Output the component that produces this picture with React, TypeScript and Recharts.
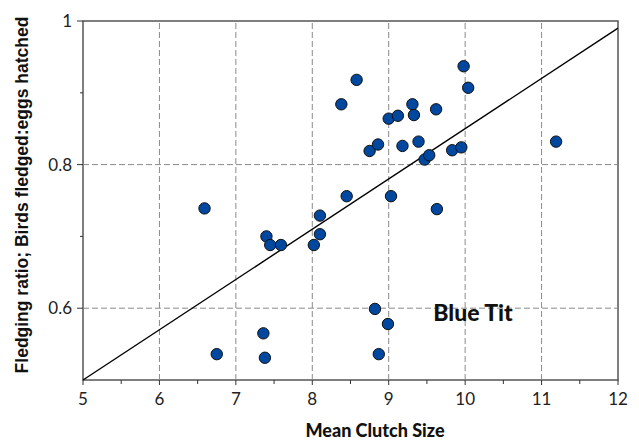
import {
  ReferenceArea,
  ReferenceLine,
  Scatter,
  ScatterChart,
  XAxis,
  YAxis,
} from "recharts"

// mean clutch size per site
const clutchSize = [
  6.59, 6.75, 7.36, 7.38, 7.4, 7.45, 7.59, 8.02, 8.1, 8.1, 8.45, 8.38, 8.58, 8.75, 8.82, 8.86, 8.87,
  8.99, 9.0, 9.03, 9.12, 9.18, 9.31, 9.33, 9.39, 9.47, 9.53, 9.62, 9.63, 9.83, 9.95, 9.98, 10.04, 11.19,
]

// fledging ratio (birds fledged : eggs hatched)
const fledgingRatio = [
  0.739, 0.536, 0.565, 0.531, 0.7, 0.688, 0.688, 0.688, 0.703, 0.729, 0.756, 0.884, 0.918, 0.819, 0.599,
  0.828, 0.536, 0.578, 0.864, 0.756, 0.868, 0.826, 0.884, 0.869, 0.832, 0.807, 0.813, 0.877, 0.738,
  0.82, 0.824, 0.937, 0.907, 0.832,
]

const xTicks = [5, 5.5, 6, 6.5, 7, 7.5, 8, 8.5, 9, 9.5, 10, 10.5, 11, 11.5, 12]
const yTicks = [0.6, 0.7, 0.8, 0.9, 1]
const xGrid = [6, 7, 8, 9, 10, 11]
const yGrid = [0.6, 0.8]

// fitted line end points
const fitLine = [
  { x: 5, y: 0.5 },
  { x: 12, y: 0.99 },
]

// white box behind the label
const labelBox = { x1: 9.02, x2: 11.14, y1: 0.553, y2: 0.616 }

const data = clutchSize.map((x, i) => ({ x, y: fledgingRatio[i] }))

const tickFont = "Lato, 'Open Sans', sans-serif"

function XTick({ x, y, payload }: any) {
  const major = Number.isInteger(payload.value)
  return (
    <g>
      <line x1={x} x2={x} y1={y} y2={y + (major ? 5 : 4)} stroke="#333" strokeWidth={1} />
      {major && (
        <text x={x} y={y + 25} textAnchor="middle" fontSize={17} fontFamily={tickFont} fill="#222">
          {payload.value}
        </text>
      )}
    </g>
  )
}

function YTick({ x, y, payload }: any) {
  const v = Math.round(payload.value * 10) / 10
  const major = Math.round(v * 10) % 2 === 0
  return (
    <g>
      <line x1={x - (major ? 6 : 3)} x2={x} y1={y} y2={y} stroke="#333" strokeWidth={1} />
      {major && (
        <text x={x - 11} y={y + 6} textAnchor="end" fontSize={17} fontFamily={tickFont} fill="#222">
          {v}
        </text>
      )}
    </g>
  )
}

function Dot({ cx, cy }: any) {
  return <circle cx={cx} cy={cy} r={5.7} fill="#0047A0" stroke="#111" strokeWidth={1} />
}

export default function App() {
  return (
    <div style={{ position: "absolute", left: 0, top: 0, width: 639, height: 442, background: "#fff" }}>
      <ScatterChart width={639} height={442} margin={{ top: 21, right: 21, left: 23, bottom: 32 }}>
        <XAxis
          type="number"
          dataKey="x"
          domain={[5, 12]}
          ticks={xTicks}
          interval={0}
          tickSize={0}
          tickMargin={0}
          axisLine={false}
          tickLine={false}
          tick={<XTick />}
          height={30}
        />
        <YAxis
          type="number"
          dataKey="y"
          domain={[0.5, 1]}
          ticks={yTicks}
          interval={0}
          tickSize={0}
          tickMargin={0}
          axisLine={false}
          tickLine={false}
          tick={<YTick />}
          width={60}
        />
        {xGrid.map((v) => (
          <ReferenceLine key={"gx" + v} x={v} stroke="#8a8a8a" strokeDasharray="6 3" strokeWidth={1} />
        ))}
        {yGrid.map((v) => (
          <ReferenceLine key={"gy" + v} y={v} stroke="#8a8a8a" strokeDasharray="6 3" strokeWidth={1} />
        ))}
        <ReferenceArea
          x1={labelBox.x1}
          x2={labelBox.x2}
          y1={labelBox.y1}
          y2={labelBox.y2}
          fill="#fff"
          fillOpacity={1}
          stroke="none"
        />
        <ReferenceLine segment={fitLine} stroke="#000" strokeWidth={1.4} />
        <Scatter data={data} shape={<Dot />} isAnimationActive={false} />
        <ReferenceArea x1={5} x2={12} y1={0.5} y2={1} fill="none" stroke="#555" strokeWidth={1.5} />
      </ScatterChart>
      <svg
        width={639}
        height={442}
        style={{ position: "absolute", left: 0, top: 0, pointerEvents: "none" }}
      >
        <text
          transform="translate(28,195) rotate(-90)"
          textAnchor="middle"
          fontSize={17.5}
          fontWeight="bold"
          fontFamily="'Liberation Sans', Arial, sans-serif"
          fill="#111"
        >
          Fledging ratio; Birds fledged:eggs hatched
        </text>
        <text x={473} y={321} textAnchor="middle" fontSize={23} fontWeight={900} fontFamily={tickFont} fill="#111">
          Blue Tit
        </text>
        <text
          x={375}
          y={437}
          textAnchor="middle"
          fontSize={18}
          fontWeight={900}
          fontFamily={tickFont}
          fill="#111"
        >
          Mean Clutch Size
        </text>
      </svg>
    </div>
  )
}
